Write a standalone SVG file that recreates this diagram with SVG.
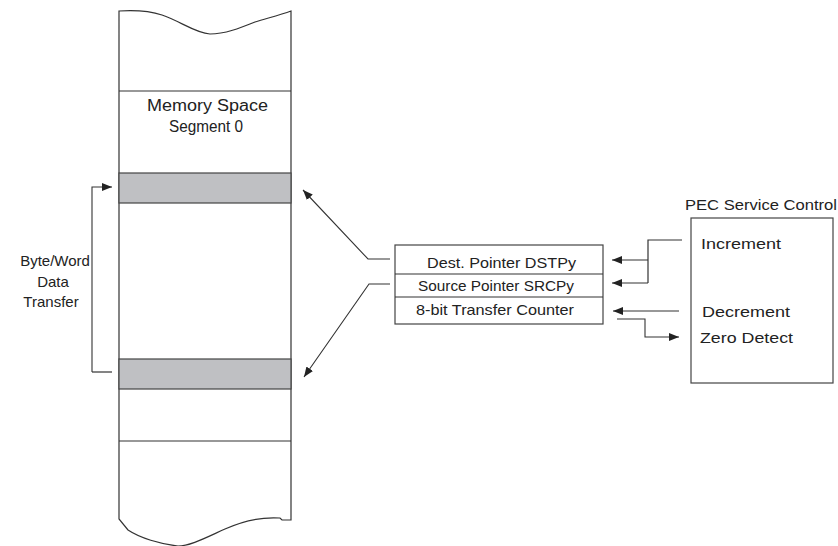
<svg xmlns="http://www.w3.org/2000/svg" width="838" height="546" viewBox="0 0 838 546">
<defs>
<marker id="ah" viewBox="0 0 10 8" refX="10" refY="4" markerWidth="10" markerHeight="8" markerUnits="userSpaceOnUse" orient="auto">
<path d="M0,0 L10,4 L0,8 Z" fill="#222"/>
</marker>
</defs>
<style>
.ln{fill:none;stroke:#333;stroke-width:1.2}
.bx{fill:#fff;stroke:#444;stroke-width:1.2}
.gr{fill:#bfc0c3;stroke:#444;stroke-width:1.2}
.ar{fill:none;stroke:#333;stroke-width:1.1;marker-end:url(#ah)}
text{font-family:"Liberation Sans",Arial,sans-serif;font-size:15px;fill:#222}
.c{text-anchor:middle}
</style>
<rect width="838" height="546" fill="#fff"/>
<g id="memory">
<path class="ln" d="M119,11 C135,10 150,11 162,15 C180,21 195,33 210,34 C225,34 240,28 255,22 C268,18 280,15 291,11 L291,520 L282,520 L280,518 C265,517 245,520 225,529 C205,538 190,546 178,546 C160,544 140,538 128,530 L119,519 Z" style="fill:#fff"/>
<line class="ln" x1="119" y1="91" x2="291" y2="91"/>
<rect class="gr" x="119" y="173" width="172" height="30"/>
<rect class="gr" x="119" y="359" width="172" height="30"/>
<line class="ln" x1="119" y1="441" x2="291" y2="441"/>
<text x="147" y="111" textLength="121" lengthAdjust="spacingAndGlyphs" style="font-size:16px">Memory Space</text>
<text x="169" y="132" textLength="74" lengthAdjust="spacingAndGlyphs" style="font-size:16px">Segment 0</text>
</g>
<g id="transfer-label">
<text class="c" x="55" y="266">Byte/Word</text>
<text class="c" x="53" y="287">Data</text>
<text class="c" x="51" y="307">Transfer</text>
</g>
<g id="registers">
<rect class="bx" x="395" y="245" width="208" height="79"/>
<line class="ln" x1="395" y1="274" x2="603" y2="274"/>
<line class="ln" x1="395" y1="297" x2="603" y2="297"/>
<text x="427" y="268" textLength="149" lengthAdjust="spacingAndGlyphs">Dest.  Pointer DSTPy</text>
<text x="418" y="291" textLength="156" lengthAdjust="spacingAndGlyphs">Source Pointer SRCPy</text>
<text x="416" y="315" textLength="158" lengthAdjust="spacingAndGlyphs">8-bit Transfer Counter</text>
</g>
<g id="pec">
<rect class="bx" x="691" y="218" width="142" height="165"/>
<text x="685" y="210" textLength="152" lengthAdjust="spacingAndGlyphs">PEC Service Control</text>
<text x="701" y="249" textLength="80" lengthAdjust="spacingAndGlyphs">Increment</text>
<text x="702" y="317" textLength="88" lengthAdjust="spacingAndGlyphs">Decrement</text>
<text x="700" y="343" textLength="93" lengthAdjust="spacingAndGlyphs">Zero Detect</text>
</g>
<g id="connectors">
<path class="ar" d="M92,372 L92,187 L112,187"/>
<path class="ln" d="M92,372 L112,372"/>
<path class="ar" d="M390,259 L368,259 L303,190"/>
<path class="ar" d="M390,284 L369,284 L304,377"/>
<path class="ln" d="M682,240 L648,240 L648,283"/>
<path class="ar" d="M648,260 L612,260"/>
<path class="ar" d="M648,283 L612,283"/>
<path class="ar" d="M679,311 L613,311"/>
<path class="ar" d="M617,319 L645,319 L645,337 L679,337"/>
</g>
</svg>
